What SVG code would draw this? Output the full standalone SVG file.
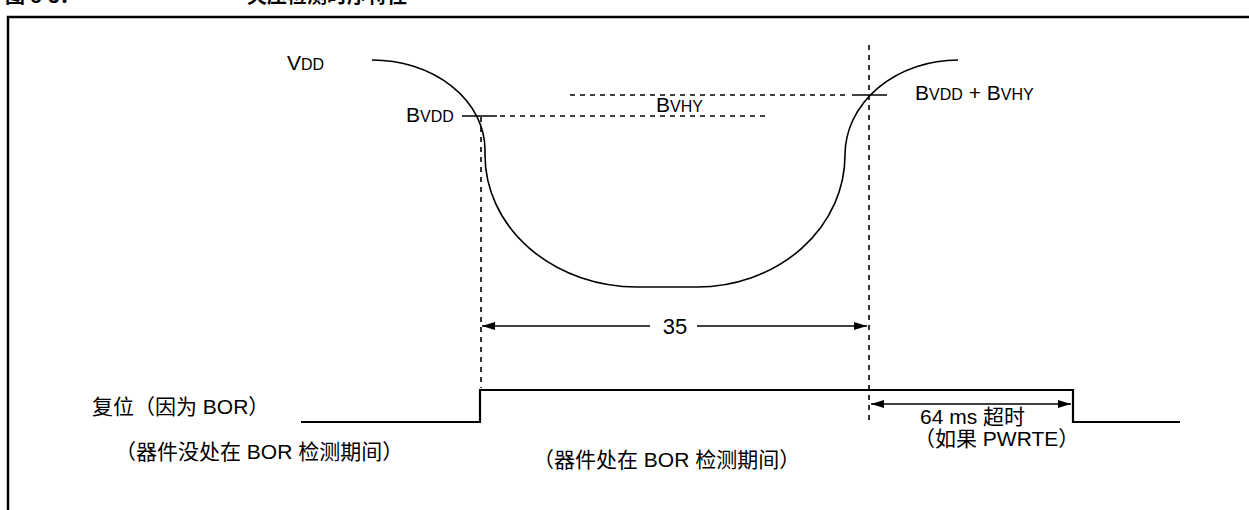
<svg xmlns="http://www.w3.org/2000/svg" width="1249" height="510" viewBox="0 0 1249 510">
<style>
text{font-family:"Liberation Sans","Noto Sans CJK SC",sans-serif;fill:#000}
.t{font-size:21px}
.cap{font-size:21px}
.sc{font-size:16px}
.dash{stroke:#000;stroke-width:1.6;stroke-dasharray:5 5;fill:none}
.solid{stroke:#000;stroke-width:1.6;fill:none}
.sig{stroke:#000;stroke-width:2.2;fill:none}
</style>
<defs>
<marker id="ah" viewBox="0 0 13 8" refX="13" refY="4" markerWidth="13" markerHeight="8" markerUnits="userSpaceOnUse" orient="auto-start-reverse">
<path d="M0,0 L13,4 L0,8 Z" fill="#000"/>
</marker>
</defs>
<rect width="1249" height="510" fill="#fff"/>
<g id="title">
<text x="5" y="3" style="font-size:20px;font-weight:bold">图 5-3：</text>
<text x="247" y="3" style="font-size:20px;font-weight:bold">欠压检测时序特性</text>
</g>
<g id="frame">
<path d="M8,510 V17 H1249" stroke="#000" stroke-width="2.5" fill="none"/>
</g>
<g id="vdd-curve">
<path class="solid" stroke-width="1.3" d="M372,60 A113,90 0 0 1 485,150 L485,155 A152,132 0 0 0 637,287 L697,287 A148,132 0 0 0 845,155 A113,95 0 0 1 958,60"/>
</g>
<g id="connectors">
<line class="dash" x1="481" y1="117" x2="481" y2="388" stroke-width="2" stroke-dasharray="6 6"/>
<line class="dash" x1="869" y1="45" x2="869" y2="425" stroke-width="2" stroke-dasharray="6 6"/>
<line class="solid" x1="462" y1="116" x2="497" y2="116" stroke-width="2"/>
<line class="dash" x1="500" y1="116" x2="770" y2="116"/>
<line class="dash" x1="570" y1="95" x2="848" y2="95"/>
<line class="solid" x1="852" y1="95" x2="887" y2="95" stroke-width="2"/>
<line class="solid" stroke-width="2" x1="482" y1="326" x2="650" y2="326" marker-start="url(#ah)"/>
<line class="solid" stroke-width="2" x1="697" y1="326" x2="867" y2="326" marker-end="url(#ah)"/>
<line class="solid" stroke-width="2" x1="871" y1="404" x2="1071" y2="404" marker-start="url(#ah)" marker-end="url(#ah)"/>
</g>
<g id="reset-signal">
<path class="sig" d="M301,422 H480 V390 H1073 V422 H1180"/>
</g>
<g id="labels">
<text x="287" y="70"><tspan class="cap">V</tspan><tspan class="sc">DD</tspan></text>
<text x="406" y="122"><tspan class="cap">B</tspan><tspan class="sc">VDD</tspan></text>
<text x="656" y="112"><tspan class="cap">B</tspan><tspan class="sc">VHY</tspan></text>
<text x="915" y="100"><tspan class="cap">B</tspan><tspan class="sc">VDD</tspan><tspan class="cap"> + B</tspan><tspan class="sc">VHY</tspan></text>
<text x="675" y="334" text-anchor="middle" style="font-size:22px">35</text>
<text x="920" y="424" class="t">64 ms 超时</text>
<text x="914" y="446" class="t">（如果 PWRTE）</text>
<text x="92" y="414" class="t">复位（因为 BOR）</text>
<text x="115" y="459" class="t">（器件没处在 BOR 检测期间）</text>
<text x="533" y="467" class="t">（器件处在 BOR 检测期间）</text>
</g>
</svg>
